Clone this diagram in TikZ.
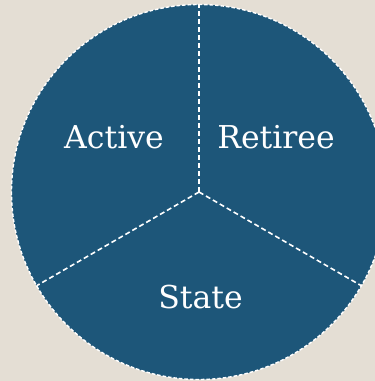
\documentclass[tikz,border=0pt]{standalone}
\usepackage{fontspec}
\setmainfont{DejaVu Serif}
\usetikzlibrary{positioning, calc}
\definecolor{bgsand}{HTML}{E4DED4}
\definecolor{pieblue}{HTML}{1D5679}

\begin{document}
\begin{tikzpicture}[x=1pt, y=1pt,
SliceLabel/.style={text=white, font=\fontsize{31.5}{36}\selectfont, anchor=base,
                inner sep=0pt, outer sep=0pt},
RimStyle/.style={draw=white, line width=1.4pt, dash pattern=on 3.5pt off 2pt},
CutStyle/.style={draw=white, line width=1.6pt, dash pattern=on 5pt off 3pt},]
\useasboundingbox [fill=bgsand] (0, 0) rectangle (375, 381);
\clip (0, 0) rectangle (375, 381);
\coordinate (c) at (199, 189);
\coordinate (t) at ($(c)+(90:187.5)$);
\coordinate (l) at ($(c)+(210:187.5)$);
\coordinate (r) at ($(c)+(330:187.5)$);
\fill [pieblue] (c) circle (187.5);
\draw [RimStyle] (c) circle (187.5);
\draw [CutStyle] (c)--(t);
\draw [CutStyle] (c)--(l);
\draw [CutStyle] (c)--(r);
\node [SliceLabel] at (114, 232) (a1) {Active};
\node [SliceLabel] at (276, 232) (a2) {Retiree};
\node [SliceLabel] at (200.5, 72) (a3) {State};
\end{tikzpicture}
\end{document}
